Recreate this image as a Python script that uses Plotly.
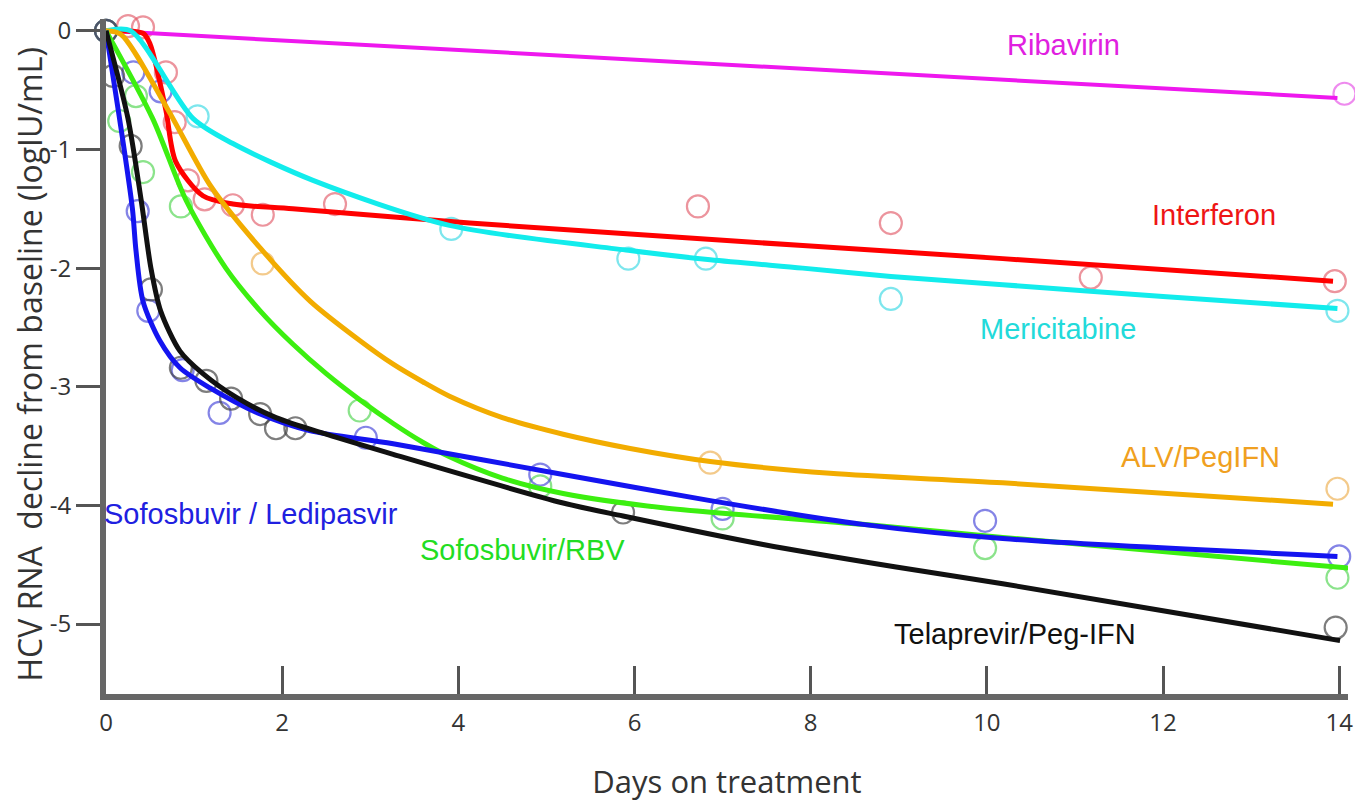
import plotly.graph_objects as go

# ---------------- data ----------------
# Fitted curves
rib_line_x = [0, 13.98]
rib_line_y = [0, -0.565]

ifn_line_x = [0, 0.42, 0.50, 0.68, 0.79, 1.10, 1.44, 2.12, 4.13, 7.91, 10.18, 13.93]
ifn_line_y = [0, -0.02, -0.11, -0.67, -1.10, -1.39, -1.46, -1.50, -1.62, -1.81, -1.92, -2.11]

mer_line_x = [0, 0.28, 0.99, 1.44, 2.35, 3.90, 5.93, 6.86, 7.91, 8.91, 10.18, 12.0, 13.98]
mer_line_y = [0, 0, -0.74, -0.95, -1.26, -1.64, -1.85, -1.93, -2.00, -2.07, -2.14, -2.24, -2.34]

alv_line_x = [0, 0.17, 0.70, 1.19, 1.75, 2.32, 2.88, 3.26, 3.60, 3.90, 4.50, 5.19, 5.95, 6.86, 8.22, 10.18, 13.93]
alv_line_y = [0, -0.03, -0.66, -1.31, -1.83, -2.28, -2.61, -2.81, -2.96, -3.08, -3.26, -3.40, -3.52, -3.63, -3.73, -3.81, -3.99]

rbv_line_x = [0, 0.53, 0.91, 1.36, 1.75, 2.12, 2.50, 2.88, 3.26, 3.60, 3.90, 4.50, 5.19, 6.32, 8.59, 10.18, 14.12]
rbv_line_y = [0, -0.74, -1.43, -2.00, -2.36, -2.64, -2.89, -3.11, -3.31, -3.47, -3.59, -3.77, -3.90, -4.02, -4.16, -4.27, -4.53]

ldv_line_x = [0, 0.15, 0.30, 0.34, 0.42, 0.61, 0.84, 1.18, 1.75, 2.31, 3.26, 5.19, 6.86, 8.59, 10.18, 13.98]
ldv_line_y = [0, -0.72, -1.50, -1.85, -2.28, -2.61, -2.84, -3.01, -3.23, -3.37, -3.48, -3.74, -3.96, -4.16, -4.28, -4.43]

tvr_line_x = [0, 0.25, 0.40, 0.51, 0.62, 0.84, 1.10, 1.48, 1.93, 2.50, 3.26, 5.19, 5.87, 7.46, 8.97, 10.18, 14.01]
tvr_line_y = [0, -0.74, -1.43, -2.00, -2.36, -2.70, -2.89, -3.09, -3.26, -3.40, -3.57, -3.98, -4.09, -4.33, -4.52, -4.66, -5.14]

# Observed points (open circles)
rib_pts_x = [0, 14.06]
rib_pts_y = [0, -0.53]

ifn_pts_x = [0.25, 0.42, 0.68, 0.78, 0.93, 1.12, 1.44, 1.78, 2.60, 6.72, 8.91, 11.18, 13.95]
ifn_pts_y = [0.04, 0.03, -0.35, -0.77, -1.26, -1.42, -1.47, -1.55, -1.46, -1.48, -1.62, -2.08, -2.11]

mer_pts_x = [0, 1.04, 3.92, 5.93, 6.81, 8.91, 13.98]
mer_pts_y = [0, -0.72, -1.67, -1.92, -1.92, -2.26, -2.36]

alv_pts_x = [0, 1.78, 6.86, 13.98]
alv_pts_y = [0, -1.96, -3.64, -3.86]

rbv_pts_x = [0, 0.34, 0.15, 0.42, 0.85, 2.88, 4.93, 7.00, 9.98, 13.98]
rbv_pts_y = [0, -0.55, -0.76, -1.19, -1.48, -3.20, -3.84, -4.11, -4.36, -4.61]

ldv_pts_x = [0, 0.31, 0.62, 0.36, 0.48, 0.87, 1.29, 2.95, 4.93, 7.00, 9.98, 14.00]
ldv_pts_y = [0, -0.35, -0.51, -1.52, -2.36, -2.86, -3.22, -3.43, -3.74, -4.03, -4.13, -4.43]

tvr_pts_x = [0, 0.08, 0.28, 0.51, 0.85, 1.14, 1.42, 1.75, 1.93, 2.15, 5.87, 13.96]
tvr_pts_y = [0, -0.38, -0.97, -2.18, -2.84, -2.95, -3.10, -3.23, -3.35, -3.35, -4.06, -5.03]

x_ticks = [0, 2, 4, 6, 8, 10, 12, 14]
x_tick_text = ["0", "2", "4", "6", "8", "10", "12", "14"]
y_ticks = [0, -1, -2, -3, -4, -5]
y_tick_text = ["0", "-1", "-2", "-3", "-4", "-5"]

# ---------------- figure ----------------
fig = go.Figure()

pts = [
    (rib_pts_x, rib_pts_y, "rgba(232,100,232,0.75)"),
    (ifn_pts_x, ifn_pts_y, "rgba(226,90,105,0.65)"),
    (mer_pts_x, mer_pts_y, "rgba(70,220,230,0.7)"),
    (alv_pts_x, alv_pts_y, "rgba(238,180,90,0.7)"),
    (rbv_pts_x, rbv_pts_y, "rgba(90,215,90,0.7)"),
    (ldv_pts_x, ldv_pts_y, "rgba(80,80,220,0.7)"),
    (tvr_pts_x, tvr_pts_y, "rgba(70,70,70,0.7)"),
]
for px, py, col in pts:
    fig.add_trace(go.Scatter(
        x=px, y=py, mode="markers", cliponaxis=False, showlegend=False,
        marker=dict(symbol="circle-open", size=22, color=col, line=dict(width=2.2, color=col)),
    ))

lines = [
    (rib_line_x, rib_line_y, "#ee18ee", 4),
    (ifn_line_x, ifn_line_y, "#ff0000", 5),
    (mer_line_x, mer_line_y, "#12ecec", 5),
    (alv_line_x, alv_line_y, "#f2ac00", 5),
    (rbv_line_x, rbv_line_y, "#3cef10", 5),
    (ldv_line_x, ldv_line_y, "#1414f0", 5),
    (tvr_line_x, tvr_line_y, "#111111", 5),
]
for lx, ly, col, w in lines:
    fig.add_trace(go.Scatter(
        x=lx, y=ly, mode="lines", cliponaxis=False, showlegend=False,
        line=dict(color=col, width=w, shape="spline", smoothing=0.8),
    ))

ann_font = "Liberation Sans, Arial, sans-serif"
labels = [
    ("Ribavirin", 10.87, -0.12, "#e020e0"),
    ("Interferon", 12.58, -1.55, "#ee1515"),
    ("Mericitabine", 10.81, -2.51, "#22dada"),
    ("ALV/PegIFN", 12.43, -3.59, "#f0a020"),
    ("Sofosbuvir / Ledipasvir", 1.65, -4.07, "#2020e0"),
    ("Sofosbuvir/RBV", 4.73, -4.38, "#22dd22"),
    ("Telaprevir/Peg-IFN", 10.32, -5.08, "#111111"),
]
for txt, ax, ay, col in labels:
    fig.add_annotation(x=ax, y=ay, text=txt, showarrow=False, xanchor="center", yanchor="middle",
                       font=dict(family=ann_font, size=29, color=col))

axis_font = "Open Sans, sans-serif"

# y-axis title as a rotated annotation so it can sit exactly where the reference has it
fig.add_annotation(
    xref="paper", yref="paper", x=0, y=0.5, xanchor="center", yanchor="middle",
    xshift=-77, yshift=-8, textangle=-90, showarrow=False,
    text="HCV RNA  decline from baseline (logIU/mL)",
    font=dict(family=axis_font, size=32, color="#333333"),
)

fig.update_layout(
    width=1363, height=804,
    margin=dict(l=98, r=23, t=11, b=118, autoexpand=False),
    paper_bgcolor="white", plot_bgcolor="white",
    font=dict(family=axis_font, color="#333333"),
    xaxis=dict(
        range=[0, 14.1], showgrid=False, zeroline=False,
        showline=True, linecolor="#666666", linewidth=6,
        tickmode="array", tickvals=x_ticks, ticktext=x_tick_text,
        ticks="inside", ticklen=28, tickwidth=3, tickcolor="#555555",
        tickfont=dict(size=24, color="#333333"), ticklabelstandoff=2,
        title=dict(text="Days on treatment", font=dict(size=31, color="#333333"), standoff=37),
    ),
    yaxis=dict(
        range=[-5.59, 0.1], showgrid=False, zeroline=False,
        showline=True, linecolor="#666666", linewidth=6,
        tickmode="array", tickvals=y_ticks, ticktext=y_tick_text,
        ticks="outside", ticklen=24, tickwidth=3, tickcolor="#555555",
        tickfont=dict(size=24, color="#333333"),
    ),
)

fig.write_html("out.html")
